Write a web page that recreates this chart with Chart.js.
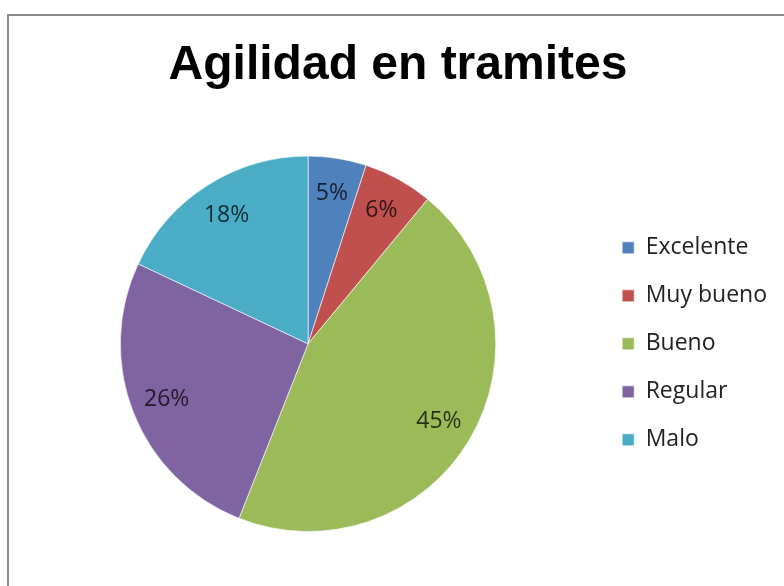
<!DOCTYPE html>
<html>
<head>
<meta charset="utf-8">
<title>Agilidad en tramites</title>
<script src="https://cdn.jsdelivr.net/npm/chart.js@4.4.1/dist/chart.umd.min.js"></script>
<style>
  html, body { margin: 0; padding: 0; background: #fff; overflow: hidden; }
  #frame {
    position: absolute; left: 7px; top: 14px;
    width: 820px; height: 620px;
    border: 2px solid #8a8a8a;
  }
  #wrap { position: absolute; left: 0; top: 0; width: 784px; height: 586px; }
</style>
</head>
<body>
<div id="frame"></div>
<div id="wrap"><canvas id="pieChart"></canvas></div>
<script>
const categories = ['Excelente', 'Muy bueno', 'Bueno', 'Regular', 'Malo'];
const percents = [5, 6, 45, 26, 18];
const sliceColors = ['#4F81BD', '#C0504D', '#9BBB59', '#8064A2', '#4BACC6'];

// percentage text placed inside each slice
const sliceLabels = {
    id: 'sliceLabels',
    afterDatasetsDraw(chart) {
        const ctx = chart.ctx;
        const arcs = chart.getDatasetMeta(0).data;
        ctx.save();
        ctx.font = '23px "Open Sans"';
        ctx.fillStyle = 'rgba(0,0,0,0.75)';
        ctx.textAlign = 'center';
        ctx.textBaseline = 'middle';
        arcs.forEach((arc, i) => {
            const mid = (arc.startAngle + arc.endAngle) / 2;
            const r = arc.outerRadius * 0.81;
            ctx.fillText(percents[i] + '%', arc.x + Math.cos(mid) * r, arc.y + Math.sin(mid) * r);
        });
        ctx.restore();
    }
};

const ctx1 = document.getElementById('pieChart').getContext('2d');
new Chart(ctx1, {
    type: 'pie',
    data: {
        labels: categories,
        datasets: [{
            data: percents,
            backgroundColor: sliceColors,
            borderColor: 'rgba(255,255,255,0.6)',
            borderWidth: 1
        }]
    },
    options: {
        responsive: true,
        maintainAspectRatio: false,
        animation: false,
        layout: { padding: { top: 37, left: 19, right: 7, bottom: 54 } },
        plugins: {
            title: {
                display: true,
                text: 'Agilidad en tramites',
                color: '#000',
                font: { family: '"Liberation Sans", Arial, sans-serif', size: 48, weight: 'bold' },
                padding: { top: 0, bottom: 61 }
            },
            legend: {
                position: 'right',
                fullSize: false,
                labels: {
                    color: '#222',
                    font: { family: '"Open Sans"', size: 23 },
                    boxWidth: 12,
                    boxHeight: 12,
                    padding: 25
                }
            },
            tooltip: { enabled: false }
        }
    },
    plugins: [sliceLabels]
});
</script>
</body>
</html>
